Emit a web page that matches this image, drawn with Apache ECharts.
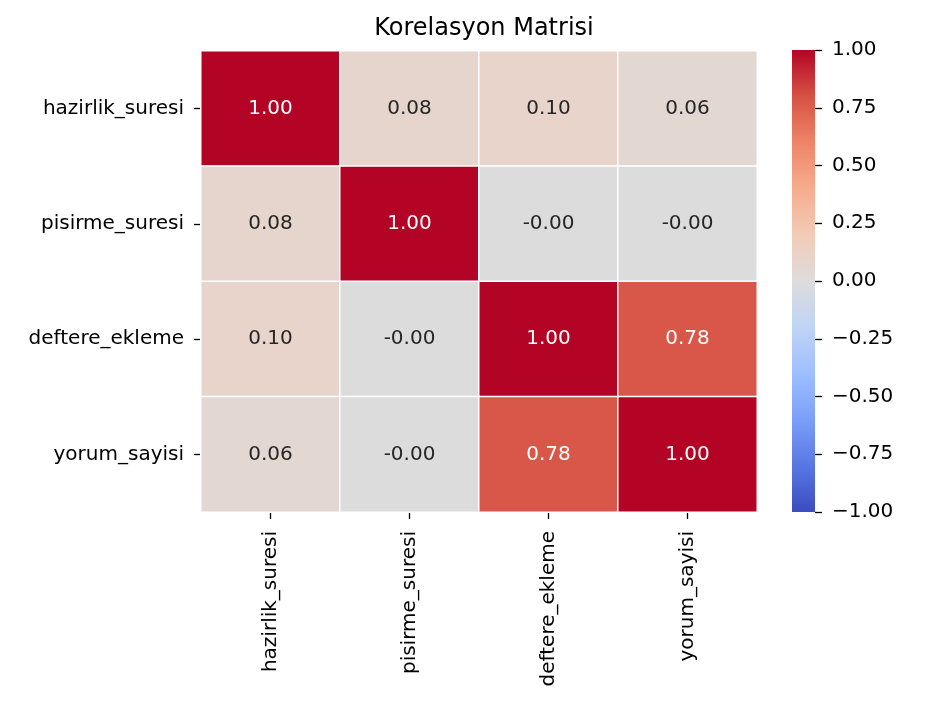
<!DOCTYPE html>
<html>
<head>
<meta charset="utf-8">
<script src="https://cdn.jsdelivr.net/npm/echarts@6/dist/echarts.min.js"></script>
<style>html,body{margin:0;padding:0;background:#fff;}#c{width:947px;height:706px;}</style>
</head>
<body>
<div id="c"></div>
<script>
const variables = ['hazirlik_suresi', 'pisirme_suresi', 'deftere_ekleme', 'yorum_sayisi'];
const rowHazirlik = [1.00, 0.08, 0.10, 0.06];
const rowPisirme = [0.08, 1.00, -0.002, -0.002];
const rowDeftere = [0.10, -0.002, 1.00, 0.78];
const rowYorum = [0.06, -0.002, 0.78, 1.00];
const coolwarm = ['#3b4cc0','#5977e3','#7b9ff9','#9ebeff','#c0d4f5','#dddcdc','#f2cbb7','#f7ac8e','#ee8468','#d65244','#b40426'];

const rows = [rowHazirlik, rowPisirme, rowDeftere, rowYorum];
const data = [];
rows.forEach((r, yi) => r.forEach((v, xi) => data.push([xi, yi, v])));

const fmt = v => (v < 0 ? '-' : '') + Math.abs(v).toFixed(2);
const FONT = 'DejaVu Sans';
const CB = { left: 792, top: 50, width: 23, height: 462 };

const chart = echarts.init(document.getElementById('c'));
chart.setOption({
  animation: false,
  backgroundColor: '#fff',
  title: {
    text: 'Korelasyon Matrisi',
    left: 479, top: 12, textAlign: 'center',
    textStyle: { fontFamily: FONT, fontSize: 24, fontWeight: 'normal', color: '#000' }
  },
  grid: [
    { left: 201, top: 51, width: 556, height: 461 },
    { left: CB.left, top: CB.top, width: CB.width, height: CB.height }
  ],
  xAxis: [
    {
      type: 'category', data: variables, gridIndex: 0,
      axisLine: { show: false },
      axisTick: { show: true, alignWithLabel: true, length: 7, lineStyle: { color: '#000', width: 1.3 } },
      axisLabel: { rotate: 90, margin: 19, fontFamily: FONT, fontSize: 20, color: '#000' },
      splitLine: { show: false }
    },
    { type: 'value', gridIndex: 1, show: false, min: 0, max: 1 }
  ],
  yAxis: [
    {
      type: 'category', data: variables, gridIndex: 0, inverse: true,
      axisLine: { show: false },
      axisTick: { show: true, alignWithLabel: true, length: 7, lineStyle: { color: '#000', width: 1.3 } },
      axisLabel: { margin: 17, fontFamily: FONT, fontSize: 20, color: '#000' },
      splitLine: { show: false }
    },
    {
      type: 'value', gridIndex: 1, position: 'right', min: -1, max: 1, interval: 0.25,
      axisLine: { show: false, onZero: false },
      axisTick: { show: true, inside: false, length: 7, lineStyle: { color: '#000', width: 1.3 } },
      axisLabel: {
        margin: 17, fontFamily: FONT, fontSize: 20, color: '#000',
        formatter: v => (v < 0 ? '\u2212' : '') + Math.abs(v).toFixed(2)
      },
      splitLine: { show: false }
    }
  ],
  visualMap: {
    type: 'continuous', show: false, min: -1, max: 1, seriesIndex: 0,
    inRange: { color: coolwarm }
  },
  graphic: [{
    type: 'rect', silent: true, z: 0,
    shape: { x: CB.left, y: CB.top, width: CB.width, height: CB.height },
    style: {
      fill: new echarts.graphic.LinearGradient(0, 1, 0, 0,
        coolwarm.map((c, i) => ({ offset: i / (coolwarm.length - 1), color: c })))
    }
  }],
  series: [
    {
      type: 'heatmap', xAxisIndex: 0, yAxisIndex: 0, data: data,
      itemStyle: { borderColor: '#fff', borderWidth: 1.5 },
      label: {
        show: true,
        formatter: p => {
          const v = p.value[2];
          return (v > 0.6 ? '{w|' : '{d|') + fmt(v) + '}';
        },
        rich: {
          w: { color: '#fff', fontFamily: FONT, fontSize: 20 },
          d: { color: '#262626', fontFamily: FONT, fontSize: 20 }
        }
      },
      emphasis: { disabled: true }
    },
    { type: 'scatter', xAxisIndex: 1, yAxisIndex: 1, data: [], silent: true }
  ]
});
</script>
</body>
</html>
